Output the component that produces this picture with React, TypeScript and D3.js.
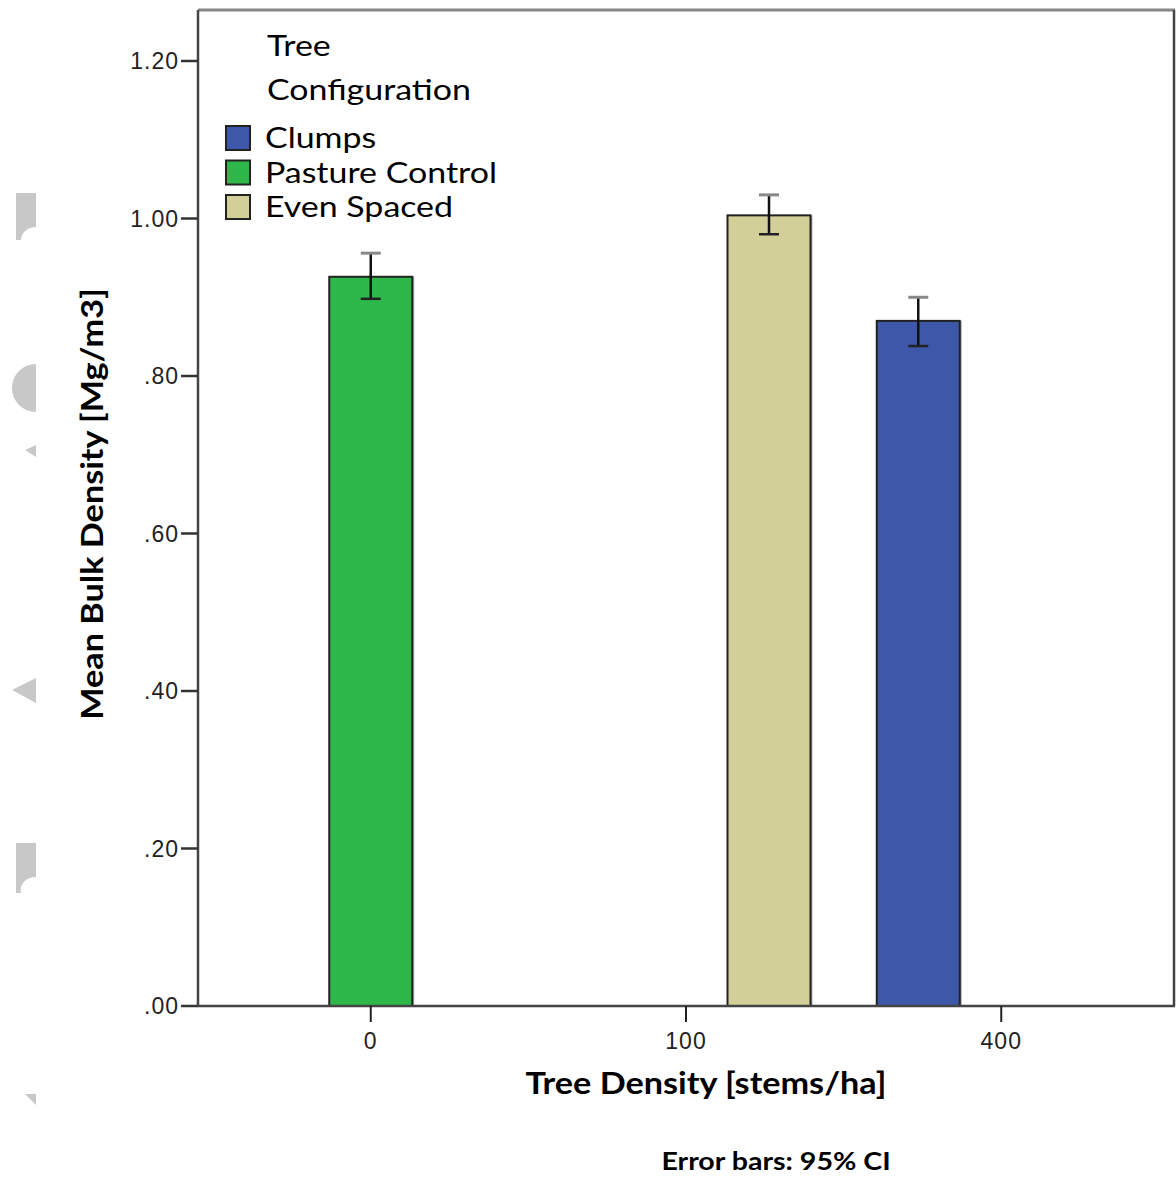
import React from "react";
import * as d3 from "d3";

const densities = ["0", "100", "400"];
const configs = ["Clumps", "Pasture Control", "Even Spaced"];
const configColors = ["#3d58a9", "#2eb84a", "#d3cf98"];
const barDensity = ["0", "100", "400"];
const barConfig = ["Pasture Control", "Even Spaced", "Clumps"];
const barMean = [0.926, 1.004, 0.870];
const barLow = [0.898, 0.980, 0.838];
const barHigh = [0.956, 1.030, 0.900];
const yTicks = [0, 0.2, 0.4, 0.6, 0.8, 1.0, 1.2];

const W = 1176;
const H = 1180;
const left = 198;
const right = 1174;
const top = 10;
const bottom = 1006;

export default function App() {
  const y = d3.scaleLinear().domain([0, 1.2]).range([bottom, 61]);
  const x = d3.scalePoint<string>().domain(densities).range([left, right]).padding(0.548);
  const inner = d3.scaleBand<string>().domain(configs).range([-124.5, 124.5]).padding(0);
  const fmt = (v: number) => {
    const s = d3.format(".2f")(v);
    return s.startsWith("0") ? s.slice(1) : s;
  };
  const colorOf = (c: string) => configColors[configs.indexOf(c)];
  const tickFont = "'Liberation Sans', Arial, sans-serif";
  const titleFont = "Lato, 'Open Sans', sans-serif";
  const gray = "#c8c8c8";
  const sxT = 1.14;
  const sxL = 1.17;
  const sxC = 1.19;

  return (
    <div style={{ position: "absolute", left: 0, top: 0 }}>
      <svg width={W} height={H} style={{ display: "block", background: "#fff" }}>
        {/* page artifacts on the left edge */}
        <g fill={gray}>
          <path d="M16,193 H36 V227 A15 13 0 0 0 21,240 H16 Z" />
          <path d="M36,364 A24 24 0 0 0 36,412 Z" />
          <path d="M25,450 L36,445 L36,457 Z" />
          <path d="M12,690 L36,678 L36,703 Z" />
          <path d="M16,843 H36 V877 A15 13 0 0 0 21,893 H16 Z" />
          <path d="M25,1094 H36 V1105 Z" />
        </g>

        {/* frame */}
        <line x1={left} x2={right + 1} y1={top} y2={top} stroke="#888" strokeWidth={3} />
        <line x1={right} x2={right} y1={top} y2={bottom} stroke="#444" strokeWidth={2.5} />

        {/* bars */}
        {barMean.map((v, i) => {
          const cx = (x(barDensity[i]) as number) + (inner(barConfig[i]) as number);
          const bw = inner.bandwidth();
          return (
            <g key={"b" + i}>
              <rect x={cx + bw - 1} y={y(v)} width={3} height={bottom - y(v)} fill="#aaa" />
              <rect x={cx} y={y(v)} width={bw} height={bottom - y(v)} fill={colorOf(barConfig[i])} stroke="#222" strokeWidth={2} />
            </g>
          );
        })}

        {/* error bars */}
        {barMean.map((v, i) => {
          const cx = (x(barDensity[i]) as number) + (inner(barConfig[i]) as number) + inner.bandwidth() / 2;
          return (
            <g key={"e" + i}>
              <line x1={cx} x2={cx} y1={y(barHigh[i])} y2={y(barLow[i])} stroke="#111" strokeWidth={2.5} />
              <line x1={cx - 10} x2={cx + 10} y1={y(barHigh[i])} y2={y(barHigh[i])} stroke="#888" strokeWidth={3} />
              <line x1={cx - 10} x2={cx + 10} y1={y(barLow[i])} y2={y(barLow[i])} stroke="#222" strokeWidth={2.5} />
            </g>
          );
        })}

        {/* y axis */}
        <line x1={left} x2={left} y1={top} y2={bottom + 1} stroke="#444" strokeWidth={2.5} />
        {yTicks.map((t) => (
          <g key={"y" + t}>
            <line x1={181} x2={left} y1={y(t)} y2={y(t)} stroke="#333" strokeWidth={2.5} />
            <text x={179} y={y(t)} dy="0.36em" textAnchor="end" fontFamily={tickFont} fontSize={23} letterSpacing={1} fill="#222">
              {fmt(t)}
            </text>
          </g>
        ))}

        {/* x axis */}
        <line x1={left - 1} x2={right + 1} y1={bottom} y2={bottom} stroke="#444" strokeWidth={2.5} />
        {densities.map((d) => (
          <g key={"x" + d}>
            <line x1={x(d)} x2={x(d)} y1={bottom} y2={1022} stroke="#222" strokeWidth={2} />
            <text x={x(d)} y={1049} textAnchor="middle" fontFamily={tickFont} fontSize={23} letterSpacing={1} fill="#222">
              {d}
            </text>
          </g>
        ))}

        {/* axis titles */}
        <text
          transform={`translate(706,1094) scale(${sxT},1)`}
          textAnchor="middle"
          fontFamily={titleFont}
          fontWeight="bold"
          fontSize={30}
          fill="#000"
        >
          Tree Density [stems/ha]
        </text>
        <text
          transform={`translate(103,504) rotate(-90) scale(${sxT},1)`}
          textAnchor="middle"
          fontFamily={titleFont}
          fontWeight="bold"
          fontSize={30}
          fill="#000"
        >
          Mean Bulk Density [Mg/m3]
        </text>
        <text
          transform={`translate(776,1170) scale(${sxC},1)`}
          textAnchor="middle"
          fontFamily={titleFont}
          fontWeight="bold"
          fontSize={24}
          fill="#000"
        >
          Error bars: 95% CI
        </text>

        {/* legend */}
        <text transform={`translate(267,56) scale(${sxL},1)`} fontFamily={titleFont} fontSize={29} fill="#000">Tree</text>
        <text transform={`translate(267,100) scale(${sxL},1)`} fontFamily={titleFont} fontSize={29} fill="#000">Configuration</text>
        {configs.map((c, i) => (
          <g key={"l" + c}>
            <rect x={226} y={126 + i * 34.5} width={24} height={24} fill={configColors[i]} stroke="#222" strokeWidth={2} />
            <text transform={`translate(265,${148 + i * 34.5}) scale(${sxL},1)`} fontFamily={titleFont} fontSize={29} fill="#000">
              {c}
            </text>
          </g>
        ))}
      </svg>
    </div>
  );
}
